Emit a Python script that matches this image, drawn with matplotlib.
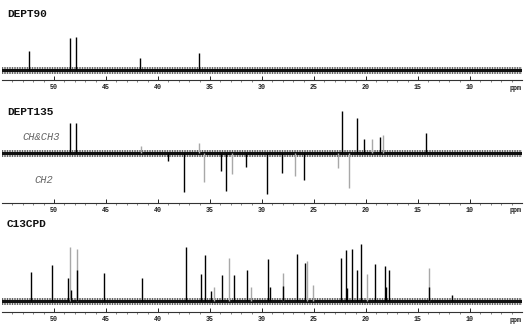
import numpy as np
import matplotlib
matplotlib.use("Agg")
import matplotlib.pyplot as plt

# peak positions (ppm) and heights (baseline = 0, arbitrary units)
dept90_ppm = [52.4, 48.5, 47.9, 41.7, 36.1]
dept90_int = [19, 32, 33, 12, 17]

dept135_ppm = [48.5, 47.9, 41.6, 36.1, 22.3, 20.9, 20.2, 19.45, 18.7, 18.35, 14.2,
               39.0, 37.5, 35.6, 33.9, 33.45, 32.85, 31.55, 29.55, 28.1, 26.8, 25.95,
               22.65, 21.6]
dept135_int = [30, 30, 7, 10, 42, 35, 14, 14, 16, 18, 20,
               -8, -39, -29, -18, -38, -21, -14, -41, -20, -23, -27,
               -15, -35]

cpd_ppm = [52.2, 50.15, 48.7, 48.45, 48.35, 47.8, 47.8, 45.2, 41.5,
           37.35, 35.9, 35.45, 34.9, 34.6, 33.8, 33.2, 32.65, 31.4, 31.1,
           29.4, 29.2, 27.95, 27.95, 26.6, 25.85, 25.7, 25.05,
           22.45, 21.95, 21.8, 21.3, 20.9, 20.5, 19.9, 19.1, 18.15, 18.1, 17.8,
           13.9, 13.9, 11.7]
cpd_int = [29, 36, 23, 54, 11, 52, 31, 28, 23,
           54, 27, 46, 10, 14, 26, 43, 26, 31, 14,
           42, 14, 28, 15, 47, 38, 40, 16,
           43, 51, 13, 52, 31, 57, 27, 37, 35, 14, 31,
           33, 14, 6]

tick_ppm = [50, 45, 40, 35, 30, 25, 20, 15, 10]

# scan shading: which peaks come out faint grey
dept135_faint = {2, 3, 7, 9, 13, 16, 20, 22, 23}
cpd_faint = {3, 5, 13, 15, 18, 21, 25, 26, 33, 38}

W, H = 526, 329
fig = plt.figure(figsize=(W / 100, H / 100), dpi=100)
fig.patch.set_facecolor("white")
plt.rcParams["hatch.linewidth"] = 0.5

mono = "Liberation Mono"


def panel(top, bottom, base_px, ppm, inten, faint, title, title_y):
    ax = fig.add_axes([2 / W, (H - bottom) / H, 520 / W, (bottom - top) / H])
    below = bottom - base_px
    above = base_px - top
    ax.set_ylim(-below, above)
    ax.set_xlim(55.0, 5.0)
    # noisy baseline band
    ax.fill_between([55, 5], -3.5, 3, facecolor="none", edgecolor="#222222",
                    hatch="||||||||||", linewidth=0, zorder=1)
    ax.plot([55, 5], [-0.3, -0.3], color="#111111", lw=2.2, zorder=2)
    cols = ["#a8a8a8" if i in faint else "#000000" for i in range(len(ppm))]
    zs = [2.5 if i in faint else 3 for i in range(len(ppm))]
    for p, h, c, z in zip(ppm, inten, cols, zs):
        ax.vlines(p, 0, h, color=c, lw=1.0, zorder=z)
    for s in ["top", "left", "right"]:
        ax.spines[s].set_visible(False)
    ax.spines["bottom"].set_color("#333333")
    ax.spines["bottom"].set_linewidth(0.8)
    ax.set_yticks([])
    ax.set_xticks(tick_ppm)
    ax.set_xticks(np.arange(6, 55, 1.0), minor=True)
    ax.tick_params(axis="x", which="major", direction="in", length=3, width=0.7,
                   pad=3, labelsize=4.8, colors="#222222")
    ax.tick_params(axis="x", which="minor", direction="out", length=1.2, width=0.5,
                   colors="#555555")
    for lab in ax.get_xticklabels():
        lab.set_fontfamily(mono)
        lab.set_fontweight("bold")
    ax.annotate("ppm", xy=(5.6, 0), xycoords=ax.get_xaxis_transform(),
                xytext=(0, -8), textcoords="offset pixels", ha="center", va="center",
                fontsize=4.8, family=mono, fontweight="bold", color="#222222")
    ax.patch.set_alpha(0)
    fig.text(7 / W, 1 - title_y / H, title, ha="left", va="center",
             fontsize=8, family=mono, fontweight="bold", color="#111111")
    return ax


panel(30, 80, 70, dept90_ppm, dept90_int, set(), "DEPT90", 14)
panel(105, 203, 153, dept135_ppm, dept135_int, dept135_faint, "DEPT135", 112)
panel(240, 312, 301, cpd_ppm, cpd_int, cpd_faint, "C13CPD", 224)

fig.text(22 / W, 1 - 137 / H, "CH&CH3", ha="left", va="center", fontsize=7.5,
         family=mono, style="italic", color="#666666")
fig.text(34 / W, 1 - 180 / H, "CH2", ha="left", va="center", fontsize=7.5,
         family=mono, style="italic", color="#666666")

fig.savefig("out.png", dpi=100)
